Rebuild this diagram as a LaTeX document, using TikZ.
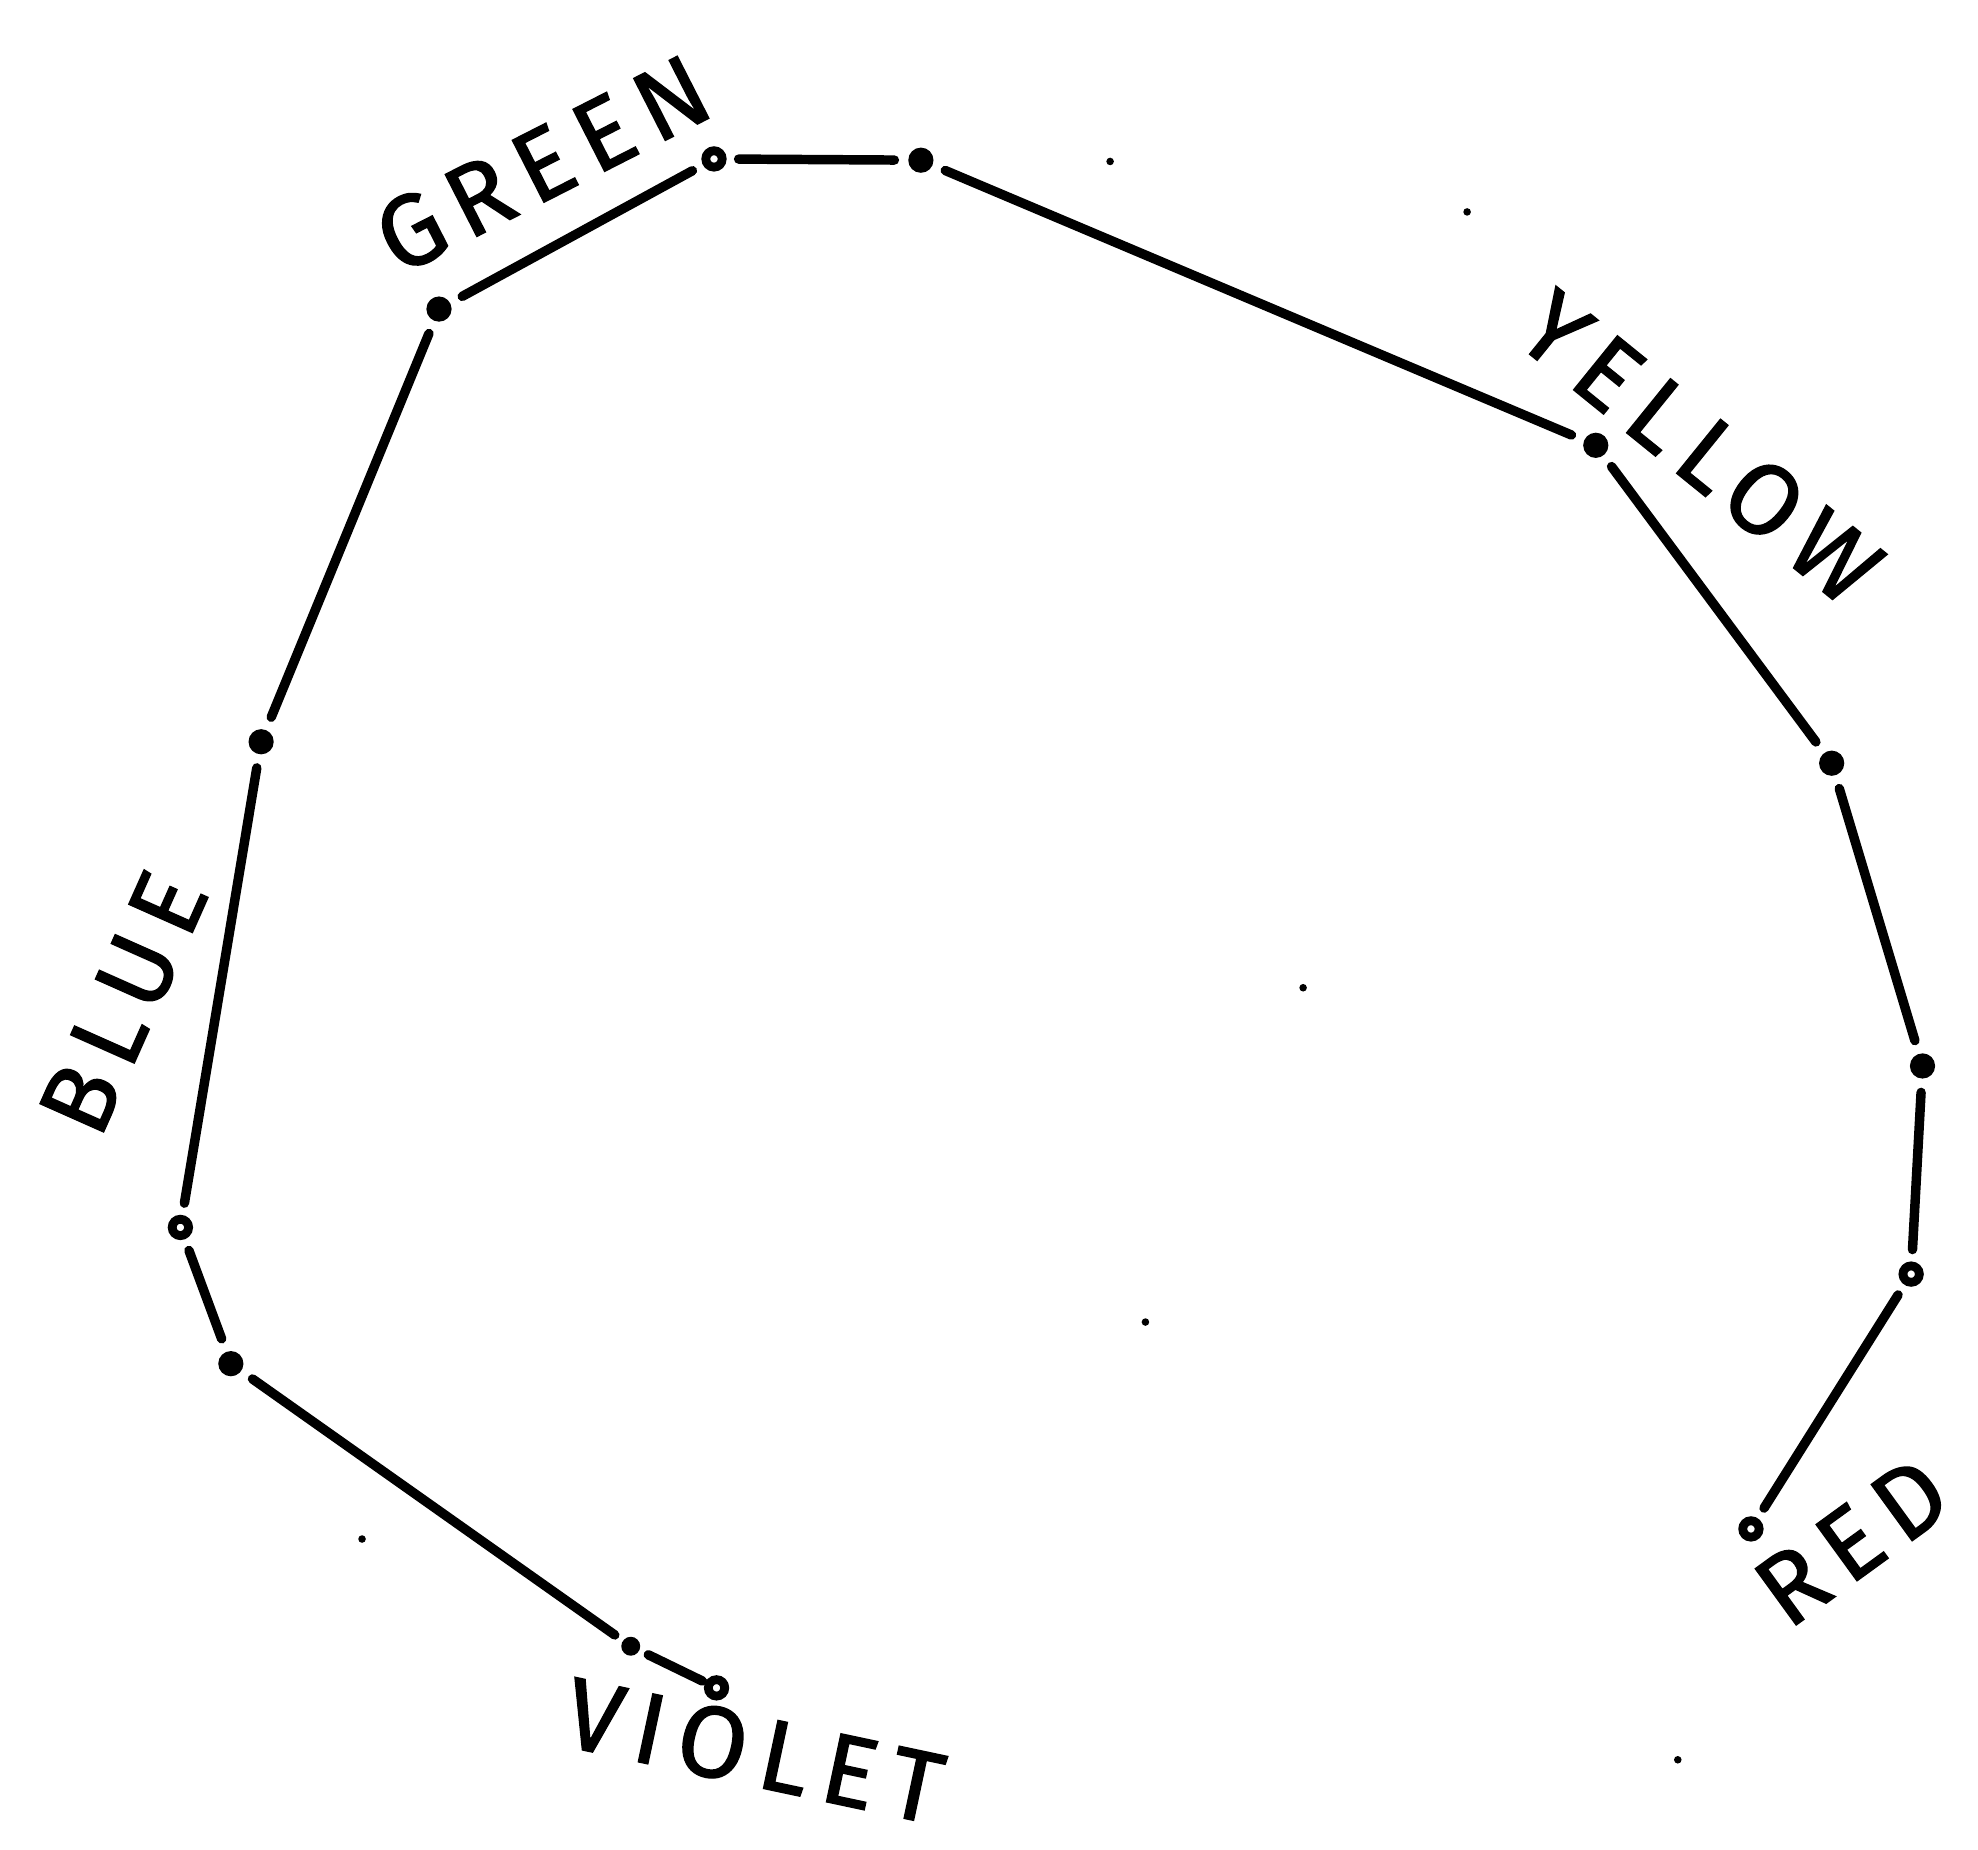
\documentclass[tikz,border=0pt]{standalone}
\usepackage{fontspec}
\setmainfont{Fira Sans}
\begin{document}
\begin{tikzpicture}[x=1pt,y=-1pt,
  dotpt/.style={circle,fill=black,inner sep=0pt,minimum size=20pt,outer sep=11pt},
  openpt/.style={circle,draw=black,line width=7pt,fill=white,inner sep=0pt,minimum size=13pt,outer sep=13pt},
  speck/.style={circle,fill=black,inner sep=0pt,minimum size=6pt},
  edge/.style={line width=7.5pt,line cap=round},
  lbl/.style={font=\fontsize{80}{80}\selectfont\addfontfeature{LetterSpace=14,FakeBold=1.4}}]
\path[use as bounding box] (0,0) rectangle (1568,1466);
% points
\node[dotpt]  (n1) at (348,245) {};
\node[openpt] (n2) at (566,126) {};
\node[dotpt]  (n3) at (730,127) {};
\node[dotpt]  (n4) at (1265,353) {};
\node[dotpt]  (n5) at (1452,605) {};
\node[dotpt]  (n6) at (1524,845) {};
\node[openpt] (n7) at (1515,1010) {};
\node[openpt] (n8) at (1388,1212) {};
\node[dotpt]  (m1) at (207,588) {};
\node[openpt] (m2) at (143,973) {};
\node[dotpt]  (m3) at (183,1081) {};
\node[dotpt,minimum size=15pt,outer sep=8pt]  (m4) at (500,1305) {};
\node[openpt,outer sep=6pt] (m5) at (568,1338) {};
% connectors
\draw[edge] (n1) -- (n2);
\draw[edge] (n2) -- (n3);
\draw[edge] (n3) -- (n4);
\draw[edge] (n4) -- (n5);
\draw[edge] (n5) -- (n6);
\draw[edge] (n6) -- (n7);
\draw[edge] (n7) -- (n8);
\draw[edge] (n1) -- (m1);
\draw[edge] (m1) -- (m2);
\draw[edge] (m2) -- (m3);
\draw[edge] (m3) -- (m4);
\draw[edge] (m4) -- (m5);
% labels
\node[lbl,rotate=27] (tg) at (430,130) {GREEN};
\node[lbl,rotate=-39] (ty) at (1348,355) {YELLOW};
\node[lbl,rotate=66] (tb) at (98,795) {BLUE};
\node[lbl,rotate=36] (tr) at (1468,1222) {RED};
\node[lbl,rotate=-12] (tv) at (598,1388) {VIOLET};
% stray specks
\node[speck] (s1) at (880,128) {};
\node[speck] (s2) at (1163,168) {};
\node[speck] (s3) at (1033,783) {};
\node[speck] (s4) at (908,1048) {};
\node[speck] (s5) at (287,1220) {};
\node[speck] (s6) at (1330,1395) {};
\end{tikzpicture}
\end{document}
